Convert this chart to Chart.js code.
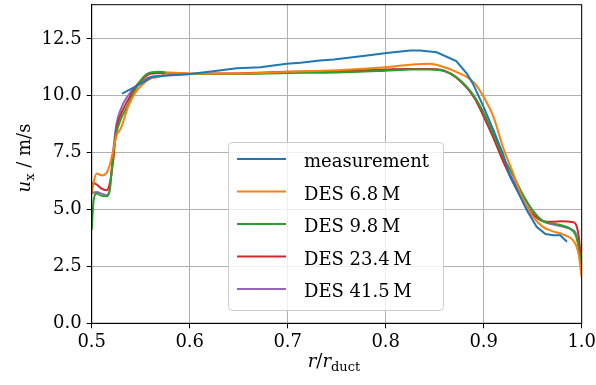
<!DOCTYPE html>
<html>
<head>
<meta charset="utf-8">
<script src="https://cdn.jsdelivr.net/npm/chart.js@4.4.0/dist/chart.umd.min.js"></script>
<style>
  body { margin: 0; background: #fff; }
  #wrap { width: 596px; height: 385px; }
</style>
</head>
<body>
<div id="wrap"><canvas id="chart"></canvas></div>
<script>
// measured profile
const rMeas = [0.531, 0.547, 0.561, 0.578, 0.600, 0.624, 0.648, 0.672, 0.699, 0.713, 0.733, 0.747, 0.781, 0.801,
    0.825, 0.835, 0.852, 0.872, 0.883, 0.889, 0.900, 0.910, 0.920, 0.927, 0.934, 0.944, 0.954, 0.963, 0.971, 0.978, 0.985]
const uMeas = [10.09, 10.45, 10.82, 10.89, 10.96, 11.08, 11.21, 11.25, 11.40, 11.45, 11.55, 11.59, 11.77, 11.88,
    11.99, 11.99, 11.91, 11.52, 10.96, 10.53, 9.50, 8.48, 7.40, 6.43, 5.85, 4.97, 4.24, 3.92, 3.87, 3.87, 3.58]

// DES profiles, all on the same radial positions
const rDes = [0.500, 0.502, 0.505, 0.510, 0.515, 0.518, 0.522, 0.525, 0.530, 0.537, 0.544, 0.552, 0.560, 0.570,
    0.580, 0.600, 0.650, 0.700, 0.750, 0.800, 0.825, 0.845, 0.860, 0.872, 0.890, 0.900, 0.910, 0.920, 0.930,
    0.940, 0.950, 0.960, 0.970, 0.980, 0.990, 0.994, 0.997, 1.000]
const uDes6 = [5.70, 6.20, 6.58, 6.50, 6.60, 6.90, 7.60, 8.20, 8.60, 9.50, 10.10, 10.50, 10.75, 10.85,
    11.02, 10.97, 10.98, 11.05, 11.12, 11.25, 11.36, 11.40, 11.25, 11.05, 10.58, 9.94, 9.06, 7.70, 6.60,
    5.45, 4.70, 4.25, 4.05, 3.92, 3.70, 3.45, 3.00, 2.00]
const uDes9 = [4.10, 5.40, 5.70, 5.60, 5.58, 5.77, 7.45, 8.33, 9.00, 9.60, 10.23, 10.78, 11.02, 11.05,
    11.00, 10.96, 10.96, 11.00, 11.02, 11.10, 11.15, 11.15, 11.08, 10.82, 10.00, 9.25, 8.30, 7.30, 6.50,
    5.65, 4.95, 4.50, 4.38, 4.30, 4.10, 3.85, 3.30, 2.40]
const uDes23 = [6.14, 6.15, 6.10, 5.92, 5.85, 6.07, 7.16, 8.48, 9.21, 9.80, 10.35, 10.75, 10.97, 11.00,
    11.00, 10.97, 10.98, 11.05, 11.08, 11.15, 11.18, 11.18, 11.10, 10.80, 9.95, 9.10, 8.15, 7.10, 6.20,
    5.40, 4.80, 4.50, 4.46, 4.48, 4.45, 4.35, 3.80, 2.50]
const uDes41 = [5.70, 5.75, 5.77, 5.70, 5.63, 5.77, 7.60, 8.70, 9.45, 10.00, 10.38, 10.66, 10.82, 10.88,
    10.92, 10.95, 10.97, 11.03, 11.07, 11.13, 11.17, 11.17, 11.08, 10.80, 9.95, 9.10, 8.15, 7.15, 6.30,
    5.60, 4.95, 4.50, 4.35, 4.25, 4.12, 3.95, 3.40, 2.40]

const names = ['measurement', 'DES 6.8\u2009M', 'DES 9.8\u2009M', 'DES 23.4\u2009M', 'DES 41.5\u2009M']
const colours = ['#1f77b4', '#ff7f0e', '#2ca02c', '#d62728', '#9467bd']
const xTicks = [0.5, 0.6, 0.7, 0.8, 0.9, 1.0]
const yTicks = [0, 2.5, 5, 7.5, 10, 12.5]

const FONT = 'DejaVu Serif'

function pts(xs, ys) {
    return xs.map((x, i) => ({ x: x, y: ys[i] }))
}

function line(i, xs, ys, smooth) {
    return {
        label: names[i],
        data: pts(xs, ys),
        borderColor: colours[i],
        backgroundColor: colours[i],
        borderWidth: 2,
        pointRadius: 0,
        fill: false,
        tension: 0,
        cubicInterpolationMode: smooth ? 'monotone' : 'default'
    }
}

// draws a row of text pieces (italic, subscripts) centred on x
function drawPieces(ctx, pieces, x, y) {
    let w = 0
    pieces.forEach(p => { ctx.font = p.font; w += ctx.measureText(p.t).width })
    let cx = x - w / 2
    pieces.forEach(p => {
        ctx.font = p.font
        ctx.fillText(p.t, cx, y + (p.dy || 0))
        cx += ctx.measureText(p.t).width
    })
}

const decorations = {
    id: 'decorations',
    afterDraw(chart) {
        const ctx = chart.ctx
        const a = chart.chartArea
        ctx.save()
        // frame
        ctx.strokeStyle = '#000'
        ctx.lineWidth = 1
        ctx.strokeRect(a.left, a.top, a.right - a.left, a.bottom - a.top)

        ctx.fillStyle = '#000'
        ctx.textBaseline = 'alphabetic'
        ctx.textAlign = 'left'
        // x title
        drawPieces(ctx, [
            { t: 'r', font: 'italic 18px ' + FONT },
            { t: '/', font: '18px ' + FONT },
            { t: 'r', font: 'italic 18px ' + FONT },
            { t: 'duct', font: '13px ' + FONT, dy: 4 }
        ], 334, 367)
        // y title
        ctx.save()
        ctx.translate(30, 158)
        ctx.rotate(-Math.PI / 2)
        drawPieces(ctx, [
            { t: 'u', font: 'italic 18px ' + FONT },
            { t: 'x', font: '13px ' + FONT, dy: 4 },
            { t: ' / m/s', font: '18px ' + FONT }
        ], 0, 0)
        ctx.restore()

        // legend
        const bx = 228.5, by = 142.5, bw = 215, bh = 168
        ctx.beginPath()
        ctx.roundRect(bx, by, bw, bh, 4)
        ctx.fillStyle = 'rgba(255,255,255,0.8)'
        ctx.fill()
        ctx.strokeStyle = '#cccccc'
        ctx.lineWidth = 1
        ctx.stroke()
        chart.data.datasets.forEach((ds, i) => {
            const ly = 159 + i * 32.5
            ctx.beginPath()
            ctx.moveTo(237, ly)
            ctx.lineTo(286, ly)
            ctx.strokeStyle = ds.borderColor
            ctx.lineWidth = 2
            ctx.stroke()
            ctx.fillStyle = '#000'
            ctx.font = '18px ' + FONT
            ctx.fillText(ds.label, 304, ly + 8)
        })
        ctx.restore()
    }
}

new Chart('chart', {
    type: 'line',
    data: {
        datasets: [
            line(0, rMeas, uMeas, false),
            line(1, rDes, uDes6, true),
            line(2, rDes, uDes9, true),
            line(3, rDes, uDes23, true),
            line(4, rDes, uDes41, true)
        ]
    },
    options: {
        responsive: true,
        maintainAspectRatio: false,
        animation: false,
        layout: { padding: { left: 0, right: 14.3, top: 4.7, bottom: 0 } },
        plugins: { legend: { display: false }, tooltip: { enabled: false } },
        scales: {
            x: {
                type: 'linear',
                min: 0.5,
                max: 1.0,
                afterBuildTicks: s => { s.ticks = xTicks.map(v => ({ value: v })) },
                afterFit: s => { s.height = 61.7; s.paddingLeft = 0; s.paddingRight = 0 },
                ticks: {
                    callback: v => v.toFixed(1),
                    font: { family: FONT, size: 18 },
                    color: '#000',
                    padding: 3,
                    maxRotation: 0,
                    autoSkip: false
                },
                grid: { color: '#b0b0b0', tickColor: '#000', tickLength: 5, lineWidth: 1 },
                border: { color: '#000', width: 1 }
            },
            y: {
                min: 0,
                max: 14,
                afterBuildTicks: s => { s.ticks = yTicks.map(v => ({ value: v })) },
                afterFit: s => { s.width = 91.7; s.paddingTop = 0; s.paddingBottom = 0 },
                ticks: {
                    callback: v => v.toFixed(1),
                    font: { family: FONT, size: 18 },
                    color: '#000',
                    padding: 5
                },
                grid: { color: '#b0b0b0', tickColor: '#000', tickLength: 5, lineWidth: 1 },
                border: { color: '#000', width: 1 }
            }
        }
    },
    plugins: [decorations]
})
</script>
</body>
</html>
